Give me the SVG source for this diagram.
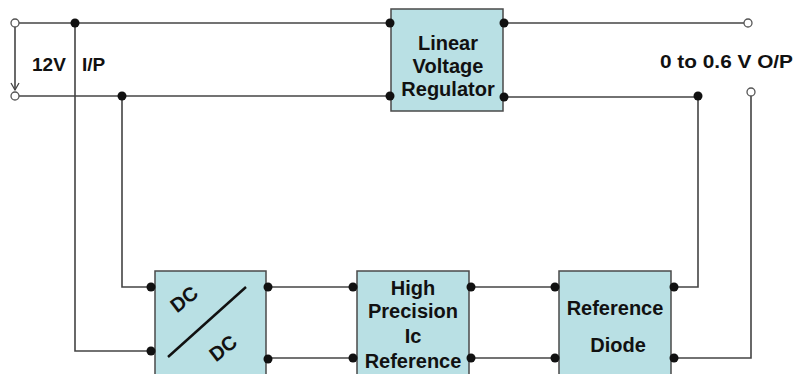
<svg xmlns="http://www.w3.org/2000/svg" width="793" height="374" viewBox="0 0 793 374">
<defs>
<style>
.box{fill:#b9e0e4;stroke:#4a4a4a;stroke-width:1.5}
.w{fill:none;stroke:#444;stroke-width:1.6}
.dot{fill:#111}
.oc{fill:#fff;stroke:#555;stroke-width:1.3}
.t{font-family:"Liberation Sans",Arial,sans-serif;font-weight:bold;font-size:20px;fill:#111;text-anchor:middle}
.lbl{font-family:"Liberation Sans",Arial,sans-serif;font-weight:bold;font-size:19px;fill:#111}
</style>
<marker id="ah" markerWidth="10" markerHeight="10" refX="8" refY="5" orient="auto" markerUnits="userSpaceOnUse">
<path d="M1,1 L8,5 L1,9" fill="none" stroke="#444" stroke-width="1.3"/>
</marker>
</defs>
<rect width="793" height="374" fill="#fff"/>
<g id="connectors">
<path class="w" d="M19,23 H391"/>
<path class="w" d="M19,96 H391"/>
<path class="w" d="M15,27 V90" marker-end="url(#ah)"/>
<path class="w" d="M75,23 V351 H155"/>
<path class="w" d="M122,96 V287 H155"/>
<path class="w" d="M503,23 H744"/>
<path class="w" d="M503,97 H698 V287 H671"/>
<path class="w" d="M751,96 V358 H671"/>
<path class="w" d="M266,287 H357"/>
<path class="w" d="M266,358 H357"/>
<path class="w" d="M469,287 H559"/>
<path class="w" d="M469,358 H559"/>
</g>
<g id="terminals">
<circle class="oc" cx="15" cy="23" r="4"/>
<circle class="oc" cx="15" cy="96" r="4"/>
<circle class="oc" cx="748" cy="23" r="4"/>
<circle class="oc" cx="751" cy="92" r="4"/>
<circle class="dot" cx="75" cy="23" r="4.5"/>
<circle class="dot" cx="122" cy="96" r="4.5"/>
<circle class="dot" cx="698" cy="96" r="4.5"/>
</g>
<g id="labels">
<text class="lbl" x="32" y="71">12V</text>
<text class="lbl" x="82" y="71">I/P</text>
<text class="lbl" x="660" y="68" textLength="133" lengthAdjust="spacingAndGlyphs">0 to 0.6 V O/P</text>
</g>
<g id="lvr">
<rect class="box" x="391" y="9" width="112" height="102"/>
<text class="t" x="448" y="50">Linear</text>
<text class="t" x="448" y="73">Voltage</text>
<text class="t" x="448" y="96">Regulator</text>
<circle class="dot" cx="390" cy="23" r="4.5"/>
<circle class="dot" cx="390" cy="96" r="4.5"/>
<circle class="dot" cx="504" cy="23" r="4.5"/>
<circle class="dot" cx="504" cy="97" r="4.5"/>
</g>
<g id="dcdc">
<rect class="box" x="155" y="271" width="111" height="110"/>
<path d="M168,357 L246,287" stroke="#111" stroke-width="2.5" fill="none"/>
<text class="t" x="184" y="306" transform="rotate(-38 184 299)">DC</text>
<text class="t" x="223" y="355" transform="rotate(-38 223 348)">DC</text>
<circle class="dot" cx="151" cy="287" r="4.5"/>
<circle class="dot" cx="151" cy="351" r="4.5"/>
<circle class="dot" cx="268" cy="287" r="4.5"/>
<circle class="dot" cx="268" cy="359" r="4.5"/>
</g>
<g id="hpic">
<rect class="box" x="357" y="271" width="112" height="110"/>
<text class="t" x="413" y="295">High</text>
<text class="t" x="413" y="318">Precision</text>
<text class="t" x="413" y="343">Ic</text>
<text class="t" x="413" y="368">Reference</text>
<circle class="dot" cx="353" cy="287" r="4.5"/>
<circle class="dot" cx="353" cy="358" r="4.5"/>
<circle class="dot" cx="471" cy="287" r="4.5"/>
<circle class="dot" cx="471" cy="358" r="4.5"/>
</g>
<g id="refdiode">
<rect class="box" x="559" y="271" width="112" height="110"/>
<text class="t" x="615" y="315">Reference</text>
<text class="t" x="618" y="352">Diode</text>
<circle class="dot" cx="555" cy="287" r="4.5"/>
<circle class="dot" cx="555" cy="358" r="4.5"/>
<circle class="dot" cx="674" cy="287" r="4.5"/>
<circle class="dot" cx="674" cy="358" r="4.5"/>
</g>
</svg>
